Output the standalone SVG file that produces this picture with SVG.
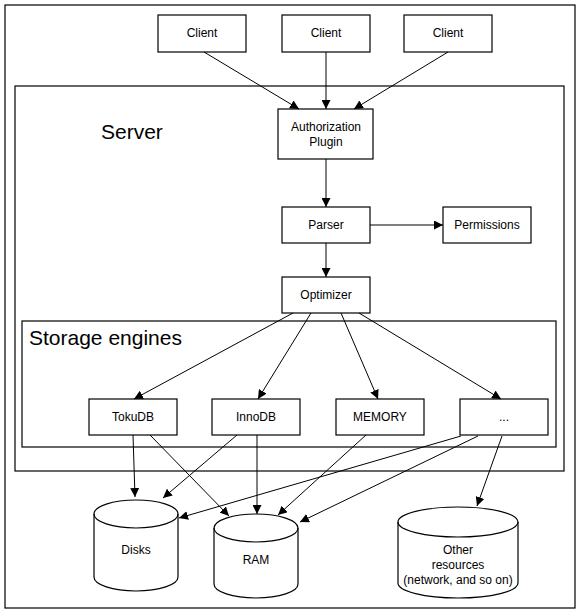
<svg xmlns="http://www.w3.org/2000/svg" width="579" height="613" viewBox="0 0 579 613">
<style>
.box{fill:#fff;stroke:#000;stroke-width:1.2}
.frame{fill:none;stroke:#000;stroke-width:1.2}
.t{font-family:"Liberation Sans",Arial,sans-serif;font-size:12px;text-anchor:middle;fill:#000}
.big{font-family:"Liberation Sans",Arial,sans-serif;font-size:21px;fill:#000}
.c{stroke:#000;stroke-width:1;fill:none;marker-end:url(#ah)}
</style>
<defs>
<marker id="ah" viewBox="0 0 10 10" refX="10" refY="5" markerWidth="9" markerHeight="9" markerUnits="userSpaceOnUse" orient="auto">
<path d="M0,0 L10,5 L0,10 z" fill="#000"/>
</marker>
</defs>
<rect x="0" y="0" width="579" height="613" fill="#fff"/>
<rect id="outer" class="frame" x="5" y="5" width="570" height="603"/>
<g id="server">
<rect class="frame" x="15" y="86" width="549" height="385"/>
<text class="big" x="101" y="139">Server</text>
</g>
<g id="storage">
<rect class="frame" x="22" y="321" width="534" height="126"/>
<text class="big" x="29" y="345">Storage engines</text>
</g>
<g id="client1"><rect class="box" x="158" y="15" width="88" height="37"/><text class="t" x="202" y="37">Client</text></g>
<g id="client2"><rect class="box" x="282" y="15" width="88" height="37"/><text class="t" x="326" y="37">Client</text></g>
<g id="client3"><rect class="box" x="404" y="15" width="88" height="37"/><text class="t" x="448" y="37">Client</text></g>
<g id="auth"><rect class="box" x="278" y="109" width="95" height="50"/><text class="t" x="326" y="131">Authorization</text><text class="t" x="326" y="146">Plugin</text></g>
<g id="parser"><rect class="box" x="282" y="207" width="88" height="36"/><text class="t" x="326" y="229">Parser</text></g>
<g id="permissions"><rect class="box" x="443" y="207" width="88" height="36"/><text class="t" x="487" y="229">Permissions</text></g>
<g id="optimizer"><rect class="box" x="282" y="277" width="88" height="36"/><text class="t" x="326" y="299">Optimizer</text></g>
<g id="tokudb"><rect class="box" x="89" y="399" width="88" height="36"/><text class="t" x="133" y="421">TokuDB</text></g>
<g id="innodb"><rect class="box" x="212" y="399" width="88" height="36"/><text class="t" x="256" y="421">InnoDB</text></g>
<g id="memory"><rect class="box" x="336" y="399" width="88" height="36"/><text class="t" x="380" y="421">MEMORY</text></g>
<g id="other-engines"><rect class="box" x="460" y="399" width="88" height="36"/><text class="t" x="504" y="421">...</text></g>
<g id="disks">
<path class="box" d="M94,514 A42,14 0 0 1 178,514 L178,577 A42,14 0 0 1 94,577 Z"/>
<path class="frame" d="M94,514 A42,14 0 0 0 178,514"/>
<text class="t" x="136" y="554">Disks</text>
</g>
<g id="ram">
<path class="box" d="M214,528 A42,14 0 0 1 298,528 L298,584 A42,14 0 0 1 214,584 Z"/>
<path class="frame" d="M214,528 A42,14 0 0 0 298,528"/>
<text class="t" x="256" y="564">RAM</text>
</g>
<g id="other">
<path class="box" d="M398,522 A60,15 0 0 1 518,522 L518,583 A60,15 0 0 1 398,583 Z"/>
<path class="frame" d="M398,522 A60,15 0 0 0 518,522"/>
<text class="t" x="458" y="554">Other</text>
<text class="t" x="458" y="569">resources</text>
<text class="t" x="458" y="584">(network, and so on)</text>
</g>
<g id="connectors">
<line class="c" x1="204" y1="52" x2="299" y2="109"/>
<line class="c" x1="326" y1="52" x2="326" y2="109"/>
<line class="c" x1="448" y1="52" x2="354" y2="109"/>
<line class="c" x1="326" y1="159" x2="326" y2="207"/>
<line class="c" x1="370" y1="225" x2="443" y2="225"/>
<line class="c" x1="326" y1="243" x2="326" y2="277"/>
<line class="c" x1="293" y1="313" x2="134" y2="399"/>
<line class="c" x1="311" y1="313" x2="258" y2="399"/>
<line class="c" x1="341" y1="313" x2="378" y2="399"/>
<line class="c" x1="359" y1="313" x2="501" y2="399"/>
<line class="c" x1="133" y1="435" x2="135" y2="497"/>
<line class="c" x1="150" y1="435" x2="229" y2="516"/>
<line class="c" x1="237" y1="435" x2="163" y2="498"/>
<line class="c" x1="257" y1="435" x2="257" y2="514"/>
<line class="c" x1="366" y1="435" x2="278" y2="515"/>
<line class="c" x1="461" y1="436" x2="179" y2="518"/>
<line class="c" x1="478" y1="436" x2="300" y2="522"/>
<line class="c" x1="502" y1="436" x2="477" y2="506"/>
</g>
</svg>
